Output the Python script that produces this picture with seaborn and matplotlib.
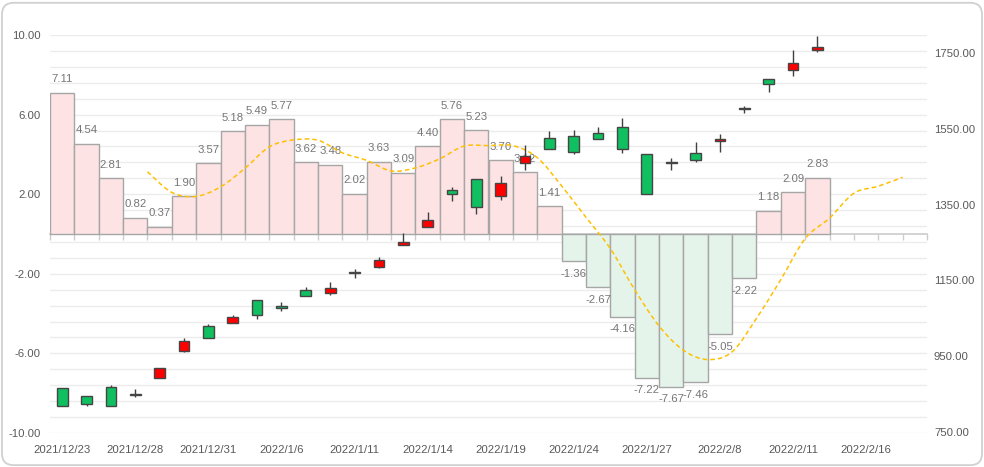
import numpy as np
import pandas as pd
import matplotlib
matplotlib.use("Agg")
import matplotlib.pyplot as plt
import seaborn as sns
from matplotlib.path import Path
from matplotlib.patches import PathPatch, FancyBboxPatch
from matplotlib.ticker import FormatStrFormatter

# trading days on the category axis
dates = [
    "2021/12/23", "2021/12/24", "2021/12/27", "2021/12/28", "2021/12/29", "2021/12/30",
    "2021/12/31", "2022/1/4", "2022/1/5", "2022/1/6", "2022/1/7", "2022/1/10",
    "2022/1/11", "2022/1/12", "2022/1/13", "2022/1/14", "2022/1/17", "2022/1/18",
    "2022/1/19", "2022/1/20", "2022/1/21", "2022/1/24", "2022/1/25", "2022/1/26",
    "2022/1/27", "2022/1/28", "2022/2/7", "2022/2/8", "2022/2/9", "2022/2/10",
    "2022/2/11", "2022/2/14", "2022/2/15", "2022/2/16", "2022/2/17", "2022/2/18",
]

# histogram values (left axis)
bar_vals = [7.11, 4.54, 2.81, 0.82, 0.37, 1.90, 3.57, 5.18, 5.49, 5.77, 3.62, 3.48,
            2.02, 3.63, 3.09, 4.40, 5.76, 5.23, 3.70, 3.12, 1.41, -1.36, -2.67, -4.16,
            -7.22, -7.67, -7.46, -5.05, -2.22, 1.18, 2.09, 2.83]

# dashed average line (left axis), first value sits at category 4
line_start = 4
line_vals = [3.13, 2.09, 1.89, 2.37, 3.30, 4.38, 4.73, 4.71, 4.08, 3.70, 3.17, 3.32,
             3.78, 4.42, 4.44, 4.44, 3.84, 2.42, 0.84, -0.73, -2.80, -4.62, -5.84, -6.31,
             -5.92, -4.24, -2.29, -0.23, 0.80, 2.05, 2.40, 2.85]

# candlesticks (right axis)
opens = [865, 844, 869, 850, 892, 964, 1030, 1038, 1098, 1082, 1125, 1118, 1171, 1186,
         1244, 1290, 1388, 1417, 1373, 1459, 1525, 1531, 1539, 1555, 1483, 1461, 1486,
         1517, 1605, 1681, 1704, 1757]
closes = [819, 825, 819, 847, 918, 991, 997, 1053, 1060, 1077, 1110, 1130, 1170, 1204,
          1251, 1309, 1377, 1344, 1407, 1478, 1496, 1490, 1522, 1496, 1379, 1462, 1468,
          1523, 1601, 1667, 1724, 1766]
highs = [865, 844, 874, 863, 918, 997, 1034, 1059, 1098, 1092, 1133, 1146, 1180, 1212,
         1275, 1330, 1396, 1417, 1425, 1507, 1544, 1547, 1555, 1578, 1483, 1472, 1515,
         1536, 1609, 1681, 1758, 1796]
lows = [819, 819, 819, 843, 892, 962, 997, 1038, 1049, 1070, 1110, 1112, 1157, 1183,
        1244, 1290, 1360, 1326, 1363, 1441, 1496, 1484, 1522, 1485, 1379, 1442, 1462,
        1490, 1592, 1648, 1690, 1753]

left_ticks = [-10, -6, -2, 2, 6, 10]
right_ticks = [750, 950, 1150, 1350, 1550, 1750]

TXT = "#595959"
LBL = "#767676"
FS = 8.2

sns.set_theme(style="white")
plt.rcParams["font.family"] = ["Liberation Sans", "DejaVu Sans"]

fig = plt.figure(figsize=(9.84, 4.67), dpi=100)
fig.patch.set_facecolor("white")
fig.patches.append(FancyBboxPatch(
    (0.002, 0.004), 0.996, 0.99, boxstyle="round,pad=0,rounding_size=0.012",
    mutation_aspect=984 / 467, transform=fig.transFigure, fill=False,
    ec="#d0d0d0", lw=1.3, zorder=0))

ax = fig.add_axes([50 / 984, 34 / 467, 877 / 984, 398 / 467])

df = pd.DataFrame({"date": dates[:len(bar_vals)], "value": bar_vals})
df["sign"] = np.where(df["value"] >= 0, "pos", "neg")
sns.barplot(data=df, x="date", y="value", hue="sign", order=dates,
            palette={"pos": "#fde3e4", "neg": "#e4f4ea"}, dodge=False, width=1.0,
            saturation=1, edgecolor="#a6a6a6", linewidth=1, legend=False, ax=ax, zorder=2)

for i, v in enumerate(bar_vals):
    if v >= 0:
        ax.annotate(f"{v:.2f}", (i, v), xytext=(0, 6), textcoords="offset points",
                    ha="center", va="bottom", fontsize=FS, color=LBL, zorder=3)
    else:
        ax.annotate(f"{v:.2f}", (i, v), xytext=(0, -5.5), textcoords="offset points",
                    ha="center", va="top", fontsize=FS, color=LBL, zorder=3)

# smooth dashed line through the average values (points on category edges)
pts = np.column_stack([np.arange(line_start, line_start + len(line_vals)) - 0.5,
                       np.array(line_vals)])
verts = [pts[0]]
codes = [Path.MOVETO]
for k in range(len(pts) - 1):
    p0 = pts[k - 1] if k > 0 else pts[k]
    p1, p2 = pts[k], pts[k + 1]
    p3 = pts[k + 2] if k + 2 < len(pts) else pts[k + 1]
    verts += [p1 + (p2 - p0) / 6, p2 - (p3 - p1) / 6, p2]
    codes += [Path.CURVE4] * 3
ax.add_patch(PathPatch(Path(verts, codes), fill=False, ec="#ffc000", lw=1.1,
                       ls=(0, (3, 2)), zorder=4))

ax.set_xlim(-0.5, len(dates) - 0.5)
ax.set_ylim(-10, 10)
ax.set_yticks(left_ticks)
ax.yaxis.set_major_formatter(FormatStrFormatter("%.2f"))
for g in np.arange(-10, 10.01, 0.8):
    ax.axhline(g, color="#ececec", lw=1, zorder=0)
ax.set_xticks(range(0, len(dates), 3))
ax.set_xticklabels(dates[::3])
ax.tick_params(axis="x", length=0, pad=8.5, labelsize=FS, labelcolor=TXT)
ax.tick_params(axis="y", length=0, pad=6.5, labelsize=FS, labelcolor=TXT)
ax.set_xlabel("")
ax.set_ylabel("")
for s in ax.spines.values():
    s.set_visible(False)

# category axis drawn along zero
sec = ax.secondary_xaxis(0.4999)
sec.set_xticks(np.arange(-0.5, len(dates), 1.0))
sec.set_xticklabels([])
sec.tick_params(axis="x", length=4, width=1, color="#cccccc", direction="out")
sec.spines["bottom"].set_color("#cccccc")
sec.spines["bottom"].set_linewidth(1.2)
for name in ["top", "left", "right"]:
    sec.spines[name].set_visible(False)

# candlesticks on the right axis
ax2 = ax.twinx()
x = np.arange(len(opens))
o = np.array(opens, dtype=float)
c = np.array(closes, dtype=float)
body_low = np.minimum(o, c)
body_h = np.maximum(np.abs(c - o), 1.5)
colors = np.where(c > o, "#ff0000", "#10c060")
ax2.vlines(x, lows, highs, color="#404040", lw=1, zorder=3)
ax2.bar(x, body_h, bottom=body_low, width=0.44, color=colors, edgecolor="#454545",
        linewidth=1, zorder=4)
ax2.set_ylim(747.4, 1797.5)
ax2.set_yticks(right_ticks)
ax2.yaxis.set_major_formatter(FormatStrFormatter("%.2f"))
ax2.tick_params(axis="y", length=0, pad=5, labelsize=FS, labelcolor=TXT)
ax2.grid(False)
for s in ax2.spines.values():
    s.set_visible(False)

fig.savefig("out.png", dpi=100)
